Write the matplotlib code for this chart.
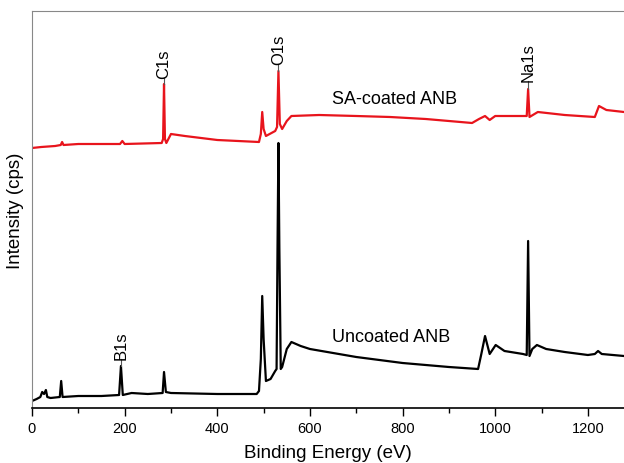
import matplotlib
matplotlib.use("Agg")
import matplotlib.pyplot as plt
from matplotlib.ticker import MultipleLocator

plt.rcParams["font.family"] = ["Liberation Sans", "DejaVu Sans"]

# Uncoated ANB survey spectrum (binding energy eV, intensity a.u.)
uncoated_ev = [0, 10, 18, 22, 26, 30, 33, 40, 60, 63, 66, 100, 150, 188, 192, 196,
               215, 250, 282, 285, 289, 300, 400, 485, 490, 494, 497, 500, 505, 515,
               525, 528, 530, 532, 534, 537, 540, 550, 560, 570, 580, 600, 700, 800,
               900, 963, 970, 978, 988, 1001, 1020, 1060, 1068, 1071, 1074, 1080,
               1090, 1110, 1150, 1200, 1215, 1222, 1230, 1278]
uncoated_int = [7, 9, 11, 16, 14, 18, 11, 10, 11, 27, 11, 12, 12, 13, 42, 13,
                15, 14, 15, 36, 16, 15, 14, 14, 17, 49, 112, 69, 27, 29,
                37, 39, 159, 265, 159, 39, 41, 59, 66, 64, 62, 59, 51, 45,
                41, 39, 54, 72, 54, 63, 57, 54, 53, 167, 52, 59,
                63, 59, 56, 53, 54, 57, 54, 52]

# SA-coated ANB survey spectrum
coated_ev = [0, 20, 50, 62, 65, 68, 100, 190, 195, 200, 280, 283, 285, 287, 290,
             300, 330, 400, 490, 494, 497, 500, 505, 525, 529, 532, 535, 540, 550,
             560, 620, 700, 773, 850, 950, 965, 978, 988, 1000, 1068, 1071, 1074,
             1092, 1150, 1215, 1224, 1240, 1278]
coated_int = [260, 261, 262, 263, 266, 263, 264, 264, 267, 264, 265, 269, 324, 269, 265,
              274, 272, 268, 266, 274, 296, 279, 272, 277, 281, 337, 284, 279, 287,
              292, 293, 292, 291, 289, 285, 289, 292, 288, 292, 292, 319, 291,
              296, 293, 291, 302, 298, 296]

peak_names = ["B1s", "C1s", "O1s", "Na1s"]
peak_ev = [192, 285, 532, 1071]
peak_top = [42, 324, 337, 319]
label_base = [49, 330, 344, 327]

fig = plt.figure(figsize=(6.24, 4.64), dpi=100)
ax = fig.add_axes([32 / 624, 55 / 464, 592 / 624, 397 / 464])

ax.plot(coated_ev, coated_int, color="#e8141c", lw=1.6)
ax.plot(uncoated_ev, uncoated_int, color="black", lw=1.6)

for name, x, top, base in zip(peak_names, peak_ev, peak_top, label_base):
    ax.plot([x, x], [top, base], color="#555555", lw=0.8)
    ax.text(x, base, name, rotation=90, ha="center", va="bottom", fontsize=12)

ax.text(647, 309, "SA-coated ANB", ha="left", va="center", fontsize=13)
ax.text(647, 72, "Uncoated ANB", ha="left", va="center", fontsize=13)

ax.set_xlim(0, 1278)
ax.set_ylim(0, 397)
ax.set_yticks([])
ax.xaxis.set_major_locator(MultipleLocator(200))
ax.xaxis.set_minor_locator(MultipleLocator(100))
ax.tick_params(axis="x", which="major", direction="out", length=6, width=1, labelsize=10.5)
ax.tick_params(axis="x", which="minor", direction="out", length=3.5, width=1)
ax.spines["right"].set_visible(False)
ax.spines["top"].set_color("#888888")
ax.spines["left"].set_color("#888888")
ax.spines["bottom"].set_linewidth(1.2)

ax.set_xlabel("Binding Energy (eV)", fontsize=13.5, labelpad=6)
ax.set_ylabel("Intensity (cps)", fontsize=13.5, labelpad=6)

fig.savefig("out.png", dpi=100)
